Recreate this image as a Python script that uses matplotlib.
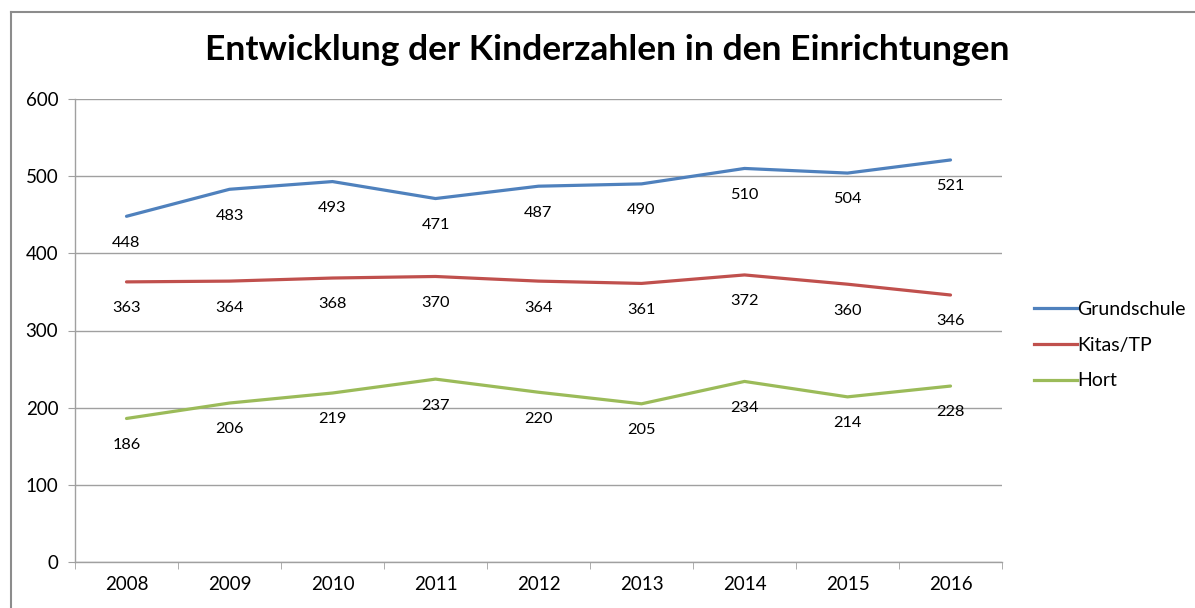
import matplotlib
matplotlib.use("Agg")
import matplotlib.pyplot as plt
from matplotlib.lines import Line2D

plt.rcParams['font.family'] = ['Lato', 'DejaVu Sans']

years = ['2008', '2009', '2010', '2011', '2012', '2013', '2014', '2015', '2016']
grundschule = [448, 483, 493, 471, 487, 490, 510, 504, 521]
kitas = [363, 364, 368, 370, 364, 361, 372, 360, 346]
hort = [186, 206, 219, 237, 220, 205, 234, 214, 228]
series_names = ['Grundschule', 'Kitas/TP', 'Hort']
colors = ['#4F81BD', '#C0504D', '#9BBB59']

W, H = 1195, 608
fig = plt.figure(figsize=(W / 100, H / 100), dpi=100)
ax = fig.add_axes([75 / W, 1 - 562 / H, (1002 - 75) / W, (562 - 99) / H])

x = list(range(len(years)))
for vals, c, name in zip([grundschule, kitas, hort], colors, series_names):
    ax.plot(x, vals, color=c, lw=2.3, solid_capstyle='round', label=name, zorder=3)
    for xi, v in zip(x, vals):
        ax.annotate(str(v), (xi, v), xytext=(0, -19), textcoords='offset points',
                    ha='center', va='center', fontsize=11.8, color='black', zorder=4)

ax.set_xlim(-0.5, len(years) - 0.5)
ax.set_ylim(0, 600)
ax.set_yticks(range(0, 601, 100))
ax.set_xticks(x)
ax.set_xticklabels(years)
ax.set_xticks([i - 0.5 for i in range(len(years) + 1)], minor=True)
ax.tick_params(axis='x', which='major', length=0, pad=10, labelsize=13.5)
ax.tick_params(axis='x', which='minor', length=5, color='#A0A0A0', direction='out')
ax.tick_params(axis='y', length=5, color='#A0A0A0', direction='out', pad=7, labelsize=13.5)
ax.grid(axis='y', color='#A0A0A0', lw=1)
ax.set_axisbelow(True)
for s in ['top', 'right']:
    ax.spines[s].set_visible(False)
for s in ['left', 'bottom']:
    ax.spines[s].set_color('#A0A0A0')
    ax.spines[s].set_linewidth(1)

fig.text(607 / W, 1 - 50 / H, 'Entwicklung der Kinderzahlen in den Einrichtungen',
         ha='center', va='center', fontsize=25.5, fontweight='bold')

handles = [Line2D([0], [0], color=c, lw=2.3) for c in colors]
leg = fig.legend(handles, series_names, loc='center left',
                 bbox_to_anchor=(1026 / W, 1 - 345 / H), frameon=False,
                 fontsize=14, handlelength=2.2, handletextpad=0.05, labelspacing=0.97,
                 borderaxespad=0)

# figure border (cropped at right and bottom)
fig.add_artist(Line2D([11 / W, 11 / W], [0, 1 - 12 / H], transform=fig.transFigure, color='#8C8C8C', lw=1.5))
fig.add_artist(Line2D([11 / W, 1], [1 - 12 / H, 1 - 12 / H], transform=fig.transFigure, color='#8C8C8C', lw=1.5))

fig.savefig('out.png', dpi=100)
